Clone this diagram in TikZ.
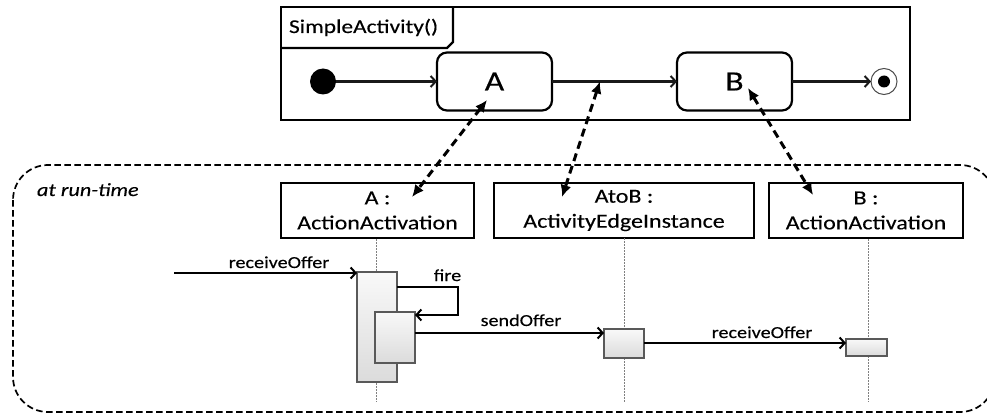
\documentclass[tikz,border=0pt]{standalone}
\usepackage{fontspec}
\setmainfont{Carlito}[FakeStretch=1.2,FakeBold=0.25]
\usetikzlibrary{arrows.meta,calc}
\begin{document}
\begin{tikzpicture}[x=1pt,y=-1pt,
  every node/.style={inner sep=0pt, outer sep=0pt},
  frameline/.style={line width=2.2pt, draw=black},
  state/.style={draw=black, line width=2.2pt, rounded corners=10pt, minimum width=115pt, minimum height=58pt, font=\fontsize{28}{30}\selectfont},
  lifebox/.style={draw=black, line width=2.2pt, minimum height=55pt, align=center, font=\fontsize{20}{25}\selectfont},
  flow/.style={line width=2.2pt, draw=black!90, -{Straight Barb[length=5pt,width=11pt,line width=2pt]}},
  msg/.style={line width=2.2pt, draw=black, -{Straight Barb[length=5pt,width=11pt,line width=2pt]}},
  trace/.style={line width=3pt, draw=black, dash pattern=on 8pt off 5pt, {Latex[length=12pt,width=11pt]}-{Latex[length=12pt,width=11pt]}},
  lifeline/.style={draw=gray, line width=0.9pt, dash pattern=on 1.5pt off 1.5pt},
  act/.style={draw=black!65, line width=1.1pt, top color=gray!5, bottom color=gray!28, minimum width=40pt},
  lbl/.style={font=\fontsize{16.8}{18}\selectfont, anchor=base}]
\useasboundingbox (0,0) rectangle (987,414);
\clip (0,0) rectangle (987,414);

% run-time region
\draw[line width=1.7pt, dash pattern=on 6.5pt off 3.5pt, rounded corners=35pt] (13,165) rectangle (995,412);
\node[font=\fontsize{18.5}{20}\selectfont\itshape, anchor=base west] (rt) at (37,196) {at run-time};

% activity frame
\node[draw, frameline, minimum width=629pt, minimum height=113pt] (frame) at (595.5,63.5) {};
\draw[frameline] (281,48) -- (447,48) -- (453,42) -- (453,7);
\node[font=\fontsize{19.5}{22}\selectfont, anchor=base west] (title) at (289,33) {SimpleActivity()};

\node[circle, fill=black, minimum size=26pt] (init) at (323,81.5) {};
\node[state] (A) at (494.5,81.5) {\raisebox{-5pt}{A}};
\node[state] (B) at (734.5,81.5) {\raisebox{-3pt}{B}};
\node[circle, draw=black!70, line width=1pt, minimum size=26pt] (fin) at (884,81.5) {};
\node[circle, fill=black, minimum size=12pt] (finc) at (fin) {};

\draw[flow] (init) -- (A);
\draw[flow] (A) -- (B);
\draw[flow] (B) -- (fin);
\coordinate (ab) at (600,81.5);

% lifeline heads
\node[lifebox, minimum width=193pt] (LA) at (377.5,210.5) {A :\\ActionActivation};
\node[lifebox, minimum width=260pt] (LAB) at (624,210.5) {AtoB :\\ActivityEdgeInstance};
\node[lifebox, minimum width=194pt] (LB) at (866,210.5) {B :\\ActionActivation};

\draw[lifeline] (376,239) -- (376,402);
\draw[lifeline] (LAB.south) -- ++(0,164);
\draw[lifeline] (868,239) -- (868,402);

% activations
\node[act, minimum height=110pt] (a1) at (377,327) {};
\node[act, minimum height=51pt] (a2) at (395,337.5) {};
\node[act, minimum height=29pt] (a3) at (624,343.5) {};
\node[act, minimum width=41pt, minimum height=17pt] (a4) at (866.5,347.5) {};

% messages
\coordinate (src) at (174,273);
\draw[msg] (src) -- (src -| a1.west);
\node[lbl] (m1) at (279,268) {receiveOffer};

\coordinate (f1) at (458,287);
\coordinate (f2) at (458,315);
\draw[msg] (a1.east |- f1) -- (f1) -- (f2) -- (f2 -| a2.east);
\node[lbl] (m2) at (447.5,281) {fire};

\coordinate (s1) at (500,333);
\draw[msg] (a2.east |- s1) -- (a3.west |- s1);
\node[lbl] (m3) at (521,326) {sendOffer};

\coordinate (r2) at (700,343);
\draw[msg] (a3.east |- r2) -- (a4.west |- r2);
\node[lbl] (m4) at (762,338) {receiveOffer};

% correspondences
\coordinate (tA) at (487,100);
\coordinate (tLA) at (412,197);
\coordinate (tLAB) at (562,197);
\coordinate (tB) at (748,88);
\coordinate (tLB) at (813,195);
\draw[trace] (tA) -- (tLA);
\draw[trace] (ab) -- (tLAB);
\draw[trace] (tB) -- (tLB);
\end{tikzpicture}
\end{document}
